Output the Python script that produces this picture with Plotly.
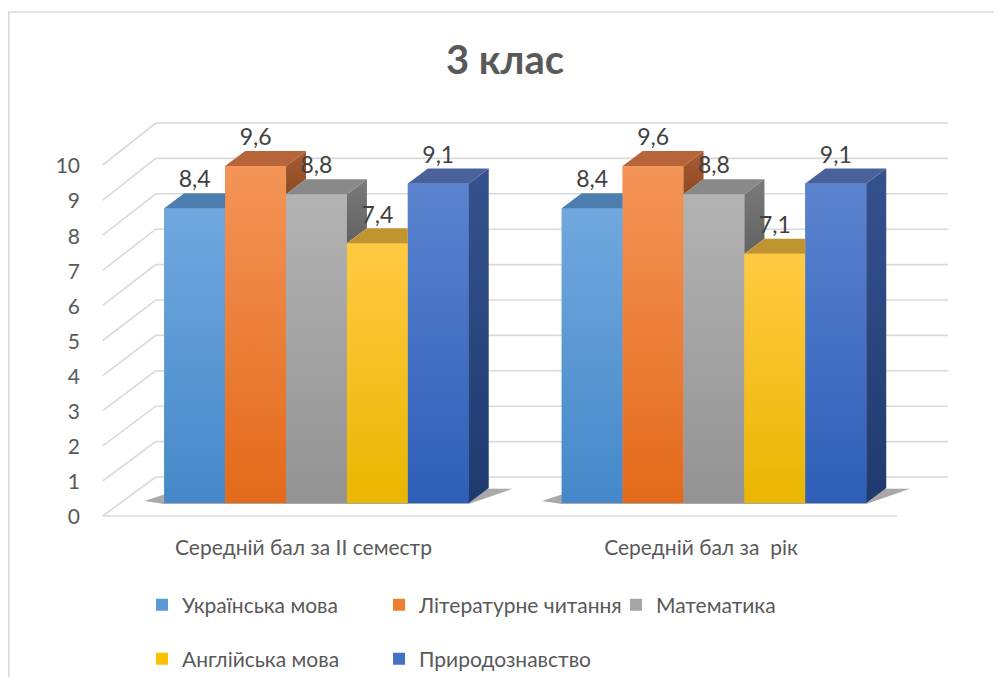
import plotly.graph_objects as go

# ---------------- data ----------------
chart_title = "3 клас"
categories = ["Середній бал за II семестр", "Середній бал за\u00a0 рік"]
subjects = ["Українська мова", "Літературне читання", "Математика",
            "Англійська мова", "Природознавство"]
ukr_mova = [8.4, 8.4]
lit_chyt = [9.6, 9.6]
matematyka = [8.8, 8.8]
angl_mova = [7.4, 7.1]
pryroda = [9.1, 9.1]
series = [ukr_mova, lit_chyt, matematyka, angl_mova, pryroda]
y_ticks = list(range(0, 11))

# ---------------- style ----------------
FONT = "Lato, 'Open Sans', sans-serif"
TXT = "#595959"
front_colors = ["#5B9BD5", "#ED7D31", "#A5A5A5", "#FFC000", "#4472C4"]
front_top = ["#70A8DE", "#F49458", "#B3B3B3", "#FFCA42", "#5B83CF"]
front_bot = ["#4588C9", "#E36A1A", "#939393", "#EAB600", "#2E5EB8"]
top_colors = ["#4E7DB0", "#B8643A", "#898989", "#C09530", "#4A629C"]
side_top = ["#45739F", "#A85C32", "#7A7A7A", "#B8902A", "#36528E"]
side_bot = ["#355C85", "#8E4A22", "#626262", "#A07A10", "#1F3A70"]

W, H = 1002, 677
OFF = 8                                   # page body margin
L, R, T, B = 95 - OFF, 955 - OFF, 110 - OFF, 525 - OFF   # plot area (figure px)
BARGAP = 0.234
DX, DY = 0.0503, 0.427                   # 3-D depth offset in data units
x_range = [-0.5572, 1.6063]
y_range = [-0.6268, 11.197]

nser = len(series)
bw = (1 - BARGAP) / nser

fig = go.Figure()

# front faces (real bars)
for k, (name, vals) in enumerate(zip(subjects, series)):
    fig.add_trace(go.Bar(
        x=list(range(len(categories))), y=vals, name=name,
        marker=dict(color=front_colors[k], line=dict(width=0)),
        legend="legend" if k < 3 else "legend2",
        hoverinfo="skip",
    ))


def poly(xs, ys, c_bot, c_top):
    return go.Scatter(
        x=xs, y=ys, mode="lines", fill="toself", line=dict(width=0),
        fillgradient=dict(type="vertical", colorscale=[[0, c_bot], [1, c_top]]),
        hoverinfo="skip", showlegend=False)


# shading of the front faces, then top and side faces clipped by the neighbour bar
for g in range(len(categories)):
    for k in range(nser):
        a = series[k][g]
        xl = g - (1 - BARGAP) / 2 + k * bw
        xr = xl + bw
        fig.add_trace(poly([xl, xr, xr, xl, xl], [0, 0, a, a, 0],
                           front_bot[k], front_top[k]))
    for k in range(nser):
        a = series[k][g]
        xl = g - (1 - BARGAP) / 2 + k * bw
        xr = xl + bw
        last = k + 1 >= nser
        b = 0.0 if last else series[k + 1][g]
        if a > b:
            fig.add_trace(poly([xr, xr, xr + DX, xr + DX, xr],
                               [b, a, a + DY, b + DY, b],
                               side_bot[k], side_top[k]))
        c = 0.0 if last else min(max(b - a, 0.0), DY)
        fig.add_trace(go.Scatter(
            x=[xl, xr, xr, xr + DX - c / DY * DX, xl + DX, xl],
            y=[a, a, a + c, a + DY, a + DY, a],
            mode="lines", fill="toself", fillcolor=top_colors[k],
            line=dict(width=0), hoverinfo="skip", showlegend=False))

# value labels
for k, vals in enumerate(series):
    xs = [g - (1 - BARGAP) / 2 + (k + 0.5) * bw for g in range(len(categories))]
    fig.add_trace(go.Scatter(
        x=xs, y=[v + DY for v in vals], mode="text",
        text=[f"{v:.1f}".replace(".", ",") for v in vals],
        textposition="top center",
        textfont=dict(family=FONT, size=23, color="#404040"),
        hoverinfo="skip", showlegend=False))

# walls: gridlines in perspective (below bars)
X_FL, X_BL, X_R, X_FLOOR = -0.5377, -0.4045, 1.588, 1.460
GRID = "#D9D9D9"
shapes = []
for t in y_ticks:
    vf = t * 1.0 - 0.37
    vb = 0.741 + 1.0085 * t
    shapes.append(dict(type="path", xref="x", yref="y", layer="below",
                       path=f"M {X_FL},{vf} L {X_BL},{vb} L {X_R},{vb}",
                       line=dict(color=GRID, width=1.6)))
shapes.append(dict(type="line", xref="x", yref="y", layer="below",
                   x0=X_FL, y0=-0.37, x1=X_FLOOR, y1=-0.37,
                   line=dict(color=GRID, width=1.6)))
# floor shadows under each group
for g in range(len(categories)):
    gl = g - (1 - BARGAP) / 2
    gr = g + (1 - BARGAP) / 2
    shapes.append(dict(type="path", xref="x", yref="y", layer="below",
                       path=(f"M {gl - 0.05},{0.06} L {gl},{-0.03} L {gr},{-0.03} "
                             f"L {gr + DX + 0.06},{DY * 0.95} L {gl + DX},{DY} Z"),
                       fillcolor="rgba(40,40,40,0.40)", line=dict(width=0)))
# chart border
shapes.append(dict(type="rect", xref="paper", yref="paper", layer="below",
                   x0=(0.75 - L) / (R - L), x1=(1010 - L) / (R - L),
                   y0=(B - 700) / (B - T), y1=(B - (12 - OFF)) / (B - T),
                   line=dict(color=GRID, width=1.5)))

legend_common = dict(orientation="h", xref="paper", yref="paper",
                     x=(142 - OFF - L) / (R - L), xanchor="left", yanchor="middle",
                     entrywidth=192, entrywidthmode="pixels",
                     font=dict(family=FONT, size=21, color=TXT),
                     bgcolor="rgba(0,0,0,0)", itemclick=False)

fig.update_layout(
    width=W, height=H,
    margin=dict(l=L, r=W - R, t=T, b=H - B, autoexpand=False),
    paper_bgcolor="white", plot_bgcolor="rgba(0,0,0,0)",
    barmode="group", bargap=BARGAP, bargroupgap=0,
    title=dict(text=f"<b>{chart_title}</b>", x=(505 - OFF) / W, xanchor="center",
               y=1 - (60 - OFF) / H, yanchor="middle",
               font=dict(family=FONT, size=40, color=TXT)),
    font=dict(family=FONT, color=TXT),
    xaxis=dict(range=x_range, tickvals=list(range(len(categories))),
               ticktext=categories, showgrid=False, zeroline=False,
               showline=False, ticks="", ticklabelshift=-13,
               ticklabelstandoff=8,
               tickfont=dict(family=FONT, size=21, color=TXT)),
    yaxis=dict(range=y_range, tickvals=y_ticks, showgrid=False,
               zeroline=False, showline=False, ticks="",
               ticklabelshift=14, ticklabelstandoff=14,
               tickfont=dict(family=FONT, size=21, color=TXT)),
    legend=dict(legend_common, y=(B - (605 - OFF)) / (B - T)),
    legend2=dict(legend_common, y=(B - (659 - OFF)) / (B - T)),
    shapes=shapes,
    showlegend=True,
)

fig.write_html("out.html")
